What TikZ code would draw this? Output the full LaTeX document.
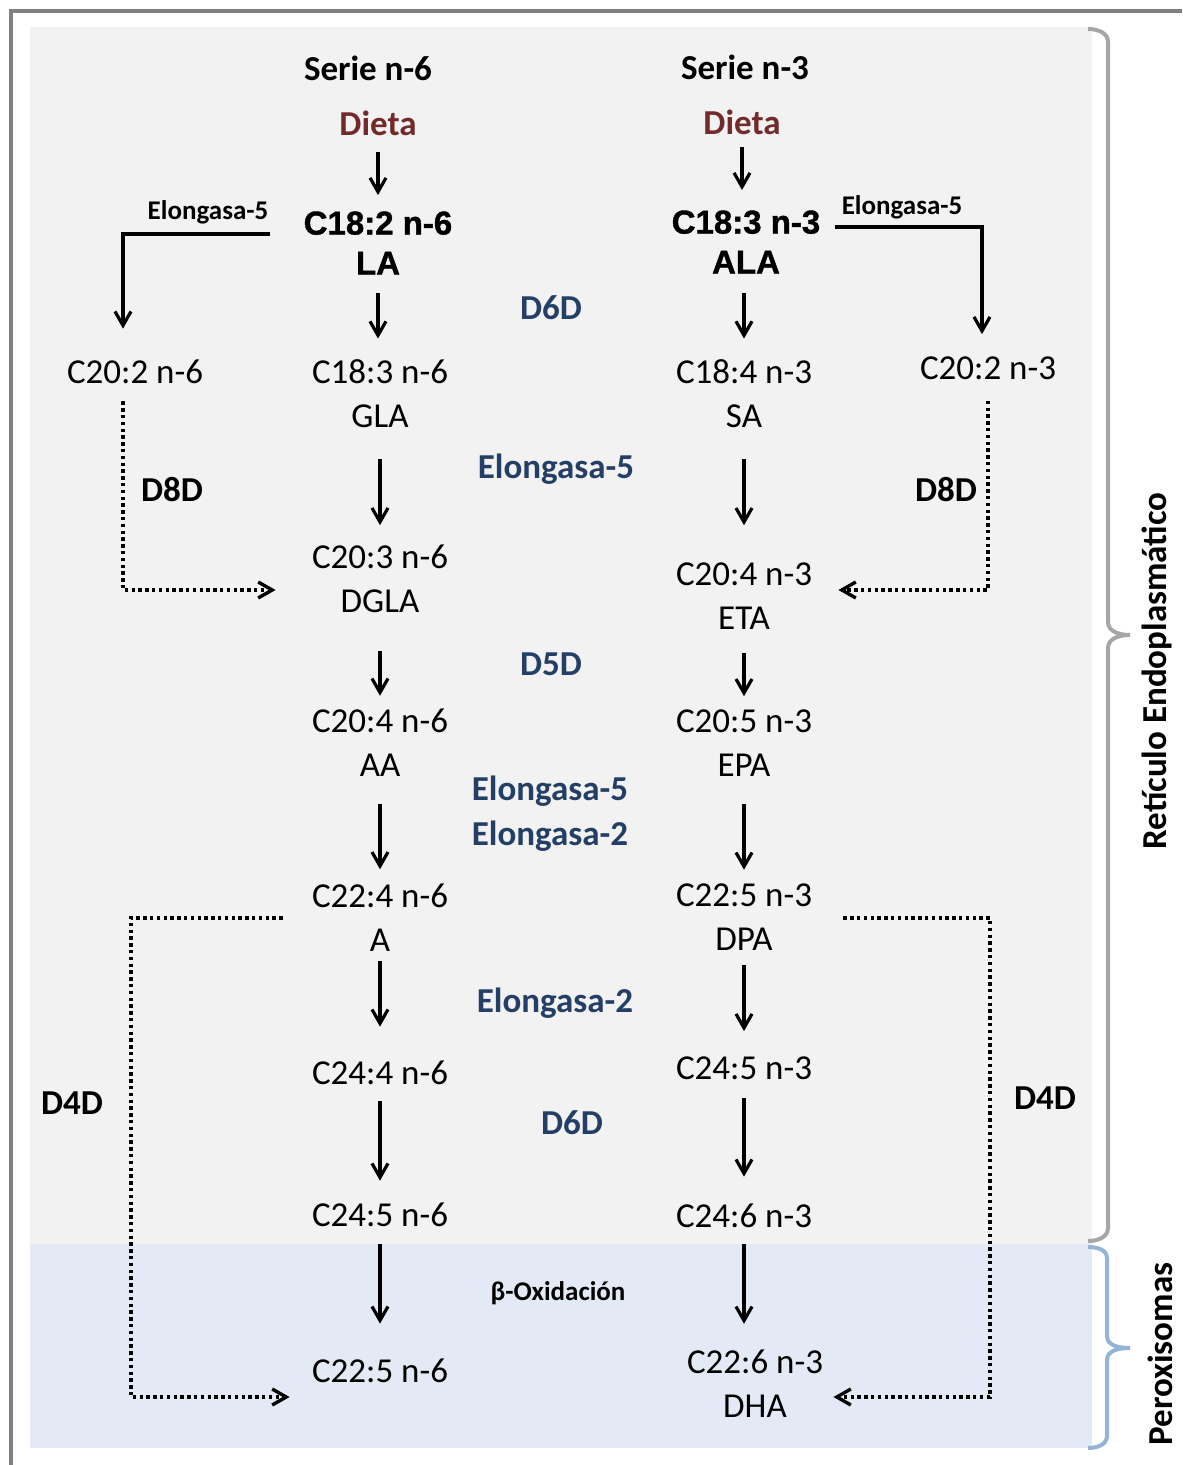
\documentclass[tikz,border=0pt]{standalone}
\usepackage{fontspec}
\setmainfont{Carlito}
\newfontfamily\arialfont{Liberation Sans}[BoldFeatures={FakeBold=1.2}]
\usetikzlibrary{arrows.meta}

\definecolor{framegray}{RGB}{128,128,128}
\definecolor{ergray}{RGB}{242,242,242}
\definecolor{perblue}{RGB}{228,234,245}
\definecolor{bracegray}{RGB}{166,166,166}
\definecolor{braceblue}{RGB}{149,179,215}
\definecolor{dietcolor}{RGB}{114,43,43}
\definecolor{enzcolor}{RGB}{36,63,102}

\begin{document}
\begin{tikzpicture}[x=0.5pt, y=-0.5pt,
  acid/.style={inner sep=0pt, align=center, font=\fontsize{17.5}{22}\selectfont},
  mainacid/.style={inner sep=0pt, align=center, font=\arialfont\bfseries\fontsize{16.5}{20}\selectfont},
  head/.style={inner sep=0pt, font=\bfseries\fontsize{17.5}{22}\selectfont},
  diet/.style={head, text=dietcolor},
  enzyme/.style={inner sep=0pt, align=center, text=enzcolor, font=\bfseries\fontsize{17.5}{22.5}\selectfont},
  small/.style={inner sep=0pt, font=\bfseries\fontsize{13.5}{16}\selectfont},
  arr/.style={line width=1.6pt, -{Straight Barb[length=7pt,width=8pt]}},
  dots/.style={line width=1.7pt, dash pattern=on 1.7pt off 1.7pt, -{Straight Barb[length=7pt,width=8pt]}}]

  \useasboundingbox (0,0) rectangle (1182,1465);

  % Background panels and frame
  \fill[ergray] (30,27) rectangle (1092,1244);
  \fill[perblue] (30,1244) rectangle (1092,1448);
  \draw[framegray, line width=2pt] (11,1465) -- (11,11) -- (1182,11);

  % Braces on the right
  \draw[bracegray, line width=2pt] (1088,29) to[out=0,in=90] (1108,42) -- (1108,622)
    to[out=-90,in=180] (1130,635) to[out=180,in=90] (1108,648) -- (1108,1228) to[out=-90,in=0] (1088,1241);
  \draw[braceblue, line width=2pt] (1088,1247) to[out=0,in=90] (1107,1258) -- (1107,1336)
    to[out=-90,in=180] (1130,1348) to[out=180,in=90] (1107,1360) -- (1107,1436) to[out=-90,in=0] (1088,1448);
  \node[head, rotate=90] (ret) at (1157,671) {Retículo Endoplasmático};
  \node[head, rotate=90] (perox) at (1160,1354) {Peroxisomas};

  % Series n-6
  \node[head] (serie6) at (368,68) {Serie n-6};
  \node[diet] (diet6) at (378,123) {Dieta};
  \node[mainacid] (la) at (378,243) {C18:2 n-6\\LA};
  \node[acid] (gla) at (380,394) {C18:3 n-6\\GLA};
  \node[acid] (dgla) at (380,578.5) {C20:3 n-6\\DGLA};
  \node[acid] (aa) at (380,743) {C20:4 n-6\\AA};
  \node[acid] (a) at (380,917.5) {C22:4 n-6\\A};
  \node[acid] (c244) at (380,1073) {C24:4 n-6};
  \node[acid] (c245) at (380,1215) {C24:5 n-6};
  \node[acid] (c225) at (380,1371) {C22:5 n-6};
  \node[acid] (c202n6) at (135,372) {C20:2 n-6};

  % Series n-3
  \node[head] (serie3) at (745,67) {Serie n-3};
  \node[diet] (diet3) at (742,122) {Dieta};
  \node[mainacid] (ala) at (746,242) {C18:3 n-3\\ALA};
  \node[acid] (sa) at (744,394) {C18:4 n-3\\SA};
  \node[acid] (eta) at (744,596) {C20:4 n-3\\ETA};
  \node[acid] (epa) at (744,743) {C20:5 n-3\\EPA};
  \node[acid] (dpa) at (744,917.5) {C22:5 n-3\\DPA};
  \node[acid] (c245n3) at (744,1068) {C24:5 n-3};
  \node[acid] (c246) at (744,1216) {C24:6 n-3};
  \node[acid] (dha) at (755,1384) {C22:6 n-3\\DHA};
  \node[acid] (c202n3) at (988,368) {C20:2 n-3};

  % Enzymes
  \node[enzyme] (d6d) at (551,308) {D6D};
  \node[enzyme] (elo5) at (556,469) {Elongasa-5};
  \node[enzyme] (d5d) at (551,664) {D5D};
  \node[enzyme] (elo52) at (550,813.5) {Elongasa-5\\Elongasa-2};
  \node[enzyme] (elo2) at (555,1003) {Elongasa-2};
  \node[enzyme] (d6db) at (572,1123) {D6D};
  \node[small] (betaox) at (558,1293) {β-Oxidación};
  \node[small] (elo5l) at (208,212) {Elongasa-5};
  \node[small] (elo5r) at (902,207) {Elongasa-5};
  \node[head] (d8dl) at (172,490) {D8D};
  \node[head] (d8dr) at (946,490) {D8D};
  \node[head] (d4dl) at (72,1103) {D4D};
  \node[head] (d4dr) at (1045,1098) {D4D};

  % Main arrows n-6
  \draw[arr, shorten <=8pt, shorten >=8pt] (diet6) -- (la);
  \draw[arr, shorten <=9pt, shorten >=10.5pt] (la) -- (la |- gla.north);
  \draw[arr, shorten <=15.5pt, shorten >=9.5pt] (gla) -- (dgla);
  \draw[arr, shorten <=19pt, shorten >=6.5pt] (dgla) -- (aa);
  \draw[arr, shorten <=13.5pt, shorten >=7pt] (aa) -- (a);
  \draw[arr, shorten <=4.5pt, shorten >=17pt] (a) -- (c244);
  \draw[arr, shorten <=8pt, shorten >=11pt] (c244) -- (c245);
  \draw[arr, shorten <=8.5pt, shorten >=17.5pt] (c245) -- (c225);

  % Main arrows n-3
  \draw[arr, shorten <=6pt, shorten >=10pt] (diet3) -- (diet3 |- ala.north);
  \draw[arr, shorten <=9.5pt, shorten >=10.5pt] (ala.south -| sa) -- (sa);
  \draw[arr, shorten <=15.5pt, shorten >=18.5pt] (sa) -- (eta);
  \draw[arr, shorten <=11.5pt, shorten >=6.5pt] (eta) -- (epa);
  \draw[arr, shorten <=13.5pt, shorten >=7pt] (epa) -- (dpa);
  \draw[arr, shorten <=7pt, shorten >=12.5pt] (dpa) -- (c245n3);
  \draw[arr, shorten <=9pt, shorten >=13.5pt] (c245n3) -- (c246);
  \draw[arr, shorten <=8pt, shorten >=13pt] (c246) -- (c246 |- dha.north);

  % Side branches
  \draw[arr] ([shift={(-33,-9)}]la.west) -| ([shift={(-12,-31)}]c202n6.north);
  \draw[arr] ([shift={(14,-15)}]ala.east) -| ([shift={(-6,-22)}]c202n3.north);
  \draw[dots] ([shift={(-12,17)}]c202n6.south) |- ([shift={(-36,11.5)}]dgla.west);
  \draw[dots] ([shift={(0,21)}]c202n3.south) |- ([shift={(26,-6)}]eta.east);

  % D4D bypass
  \coordinate (d4left) at (131,1150);
  \coordinate (d4right) at (990,1150);
  \draw[dots] ([shift={(-29,0.5)}]a.west) -| (d4left) |- ([shift={(-22,26)}]c225.west);
  \draw[dots] ([shift={(31,0.5)}]dpa.east) -| (d4right) |- ([shift={(10,13)}]dha.east);
\end{tikzpicture}
\end{document}
